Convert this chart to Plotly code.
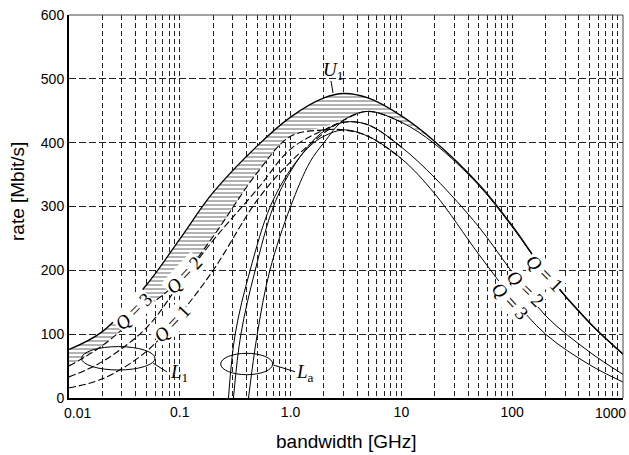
import plotly.graph_objects as go

# ---------------- data ----------------
x_u1 = [0.01, 0.02, 0.05, 0.1, 0.2, 0.5, 1, 2, 3, 5, 10, 20, 50, 100, 200, 500, 1000]
u1 = [76, 104, 177, 249, 322, 395, 440, 470, 477, 470, 442, 402, 335, 270, 197, 118, 69]

x_la_q1 = [0.417, 0.5, 0.65, 1, 1.5, 2, 3, 5, 10, 20, 50, 100, 200, 500, 1000]
la_q1 = [0, 100, 200, 300, 370, 400, 435, 449, 432, 398, 333, 268, 196, 117, 68]

x_la_q2 = [0.305, 0.356, 0.479, 0.7, 1, 1.5, 2, 3, 5, 10, 20, 50, 100, 200, 500, 1000]
la_q2 = [0, 100, 200, 300, 355, 398, 418, 432, 428, 393, 345, 268, 197, 129, 72, 37]

x_la_q3 = [0.275, 0.316, 0.431, 0.655, 1, 1.5, 2, 3, 5, 10, 20, 50, 100, 200, 500, 1000]
la_q3 = [0, 100, 200, 300, 358, 395, 410, 420, 410, 375, 320, 225, 157, 100, 52, 25]

x_l1 = [0.01, 0.02, 0.05, 0.1, 0.2, 0.5, 1, 2, 3, 5, 10]
l1_q3 = [50, 82, 141, 185, 253, 353, 410, 420, 420, 410, 375]
l1_q2 = [33, 57, 110, 179, 247, 327, 390, 420, 432, 428, 393]
l1_q1 = [16, 30, 73, 131, 200, 310, 370, 415, 435, 449, 432]

x_gap = [0.01, 0.02, 0.05, 0.1, 0.2, 0.5, 1, 2, 3, 5, 10, 20]
gap_low = [50, 82, 141, 185, 253, 353, 410, 425, 436, 449, 433, 402]

major_ticks = [0.1, 1, 10, 100]
major_text = ["0.1", "1.0", "10", "100"]
edge_text = ["0.01", "1000"]
y_ticks = [0, 100, 200, 300, 400, 500, 600]

# ---------------- figure ----------------
W, H = 629, 455
L, R, T, B = 69, 6, 15, 57
PW, PH = W - L - R, H - T - B


def px(xp):
    return (xp - L) / PW


def py(yp):
    return (H - B - yp) / PH


fig = go.Figure()

# hatched gap between U1 and best lower bound
u1_fill_x = [x for x in x_u1 if x <= x_gap[-1]]
u1_fill_y = u1[:len(u1_fill_x)]
fig.add_trace(go.Scatter(x=x_gap, y=gap_low, mode="lines", line=dict(width=0, shape="spline"),
                         hoverinfo="skip", showlegend=False))
fig.add_trace(go.Scatter(x=u1_fill_x, y=u1_fill_y, mode="lines", line=dict(width=0, shape="spline"),
                         fill="tonexty", fillcolor="white",
                         fillpattern=dict(shape="-", fgcolor="black", bgcolor="white",
                                          size=4, solidity=0.3),
                         hoverinfo="skip", showlegend=False))

dash = "7px,3px"
for xs, ys in [(x_l1, l1_q1), (x_l1, l1_q2), (x_l1, l1_q3)]:
    fig.add_trace(go.Scatter(x=xs, y=ys, mode="lines",
                             line=dict(color="black", width=1.1, dash=dash, shape="spline"),
                             showlegend=False))

for xs, ys in [(x_la_q1, la_q1), (x_la_q2, la_q2), (x_la_q3, la_q3)]:
    fig.add_trace(go.Scatter(x=xs, y=ys, mode="lines",
                             line=dict(color="black", width=1.0, shape="spline"),
                             showlegend=False))

fig.add_trace(go.Scatter(x=x_u1, y=u1, mode="lines",
                         line=dict(color="black", width=1.3, shape="spline"),
                         showlegend=False))

# minor x grid at every 2..9 x decade
minor_x = [round(m * 10.0 ** k, 6) for k in range(-2, 3) for m in range(2, 10)]

tickfont = dict(family="Liberation Sans, Arial, sans-serif", size=14, color="black")
fig.update_xaxes(type="log", range=[-2, 3], tickvals=major_ticks, ticktext=major_text,
                 showgrid=True, gridcolor="#222", gridwidth=0.8, griddash="5px,3px",
                 minor=dict(tickvals=minor_x, showgrid=True, gridcolor="#222", gridwidth=0.8,
                            griddash="5px,3px", ticks=""),
                 showline=True, linecolor="black", linewidth=2, ticks="",
                 tickfont=tickfont, zeroline=False)
fig.update_yaxes(range=[0, 600], tickvals=y_ticks, showgrid=True, gridcolor="#222",
                 gridwidth=0.8, griddash="7px,3px", showline=True, linecolor="black",
                 linewidth=2, ticks="", tickfont=tickfont, zeroline=False)

shapes = [
    dict(type="line", xref="paper", yref="paper", x0=0, x1=1, y0=1, y1=1,
         line=dict(color="#444", width=1)),
    dict(type="line", xref="paper", yref="paper", x0=1, x1=1, y0=0, y1=1,
         line=dict(color="#444", width=1)),
    # L1 ellipse and leader
    dict(type="circle", xref="paper", yref="paper", x0=px(81.6), x1=px(155), y0=py(370), y1=py(346.6),
         line=dict(color="black", width=1)),
    dict(type="line", xref="paper", yref="paper", x0=px(153), y0=py(363), x1=px(167), y1=py(372),
         line=dict(color="black", width=1)),
    # La ellipse and leader
    dict(type="circle", xref="paper", yref="paper", x0=px(220.7), x1=px(272.7), y0=py(374.7), y1=py(353.3),
         line=dict(color="black", width=1)),
    dict(type="line", xref="paper", yref="paper", x0=px(273.3), y0=py(365), x1=px(295), y1=py(371.7),
         line=dict(color="black", width=1)),
    # U1 leader
    dict(type="line", xref="paper", yref="paper", x0=px(331), y0=py(81), x1=px(333), y1=py(93),
         line=dict(color="black", width=1)),
]

serif = dict(family="Liberation Serif, DejaVu Serif, serif", size=19, color="black")
ann = []


def label(text, x, y, angle=0, bg=None, font=serif):
    d = dict(text=text, xref="paper", yref="paper", x=px(x), y=py(y), showarrow=False,
             textangle=angle, font=font, xanchor="center", yanchor="middle", borderpad=0)
    if bg:
        d["bgcolor"] = bg
    ann.append(d)


label("<i>U</i><sub>1</sub>", 333, 71)
label("<i>L</i><sub>1</sub>", 179, 373)
label("<i>L</i><sub>a</sub>", 305, 373)
label("<i>Q</i> = 3", 133.3, 311.7, -45, "white")
label("<i>Q</i> = 2", 183.3, 275, -47, "white")
label("<i>Q</i> = 1", 171.7, 323.3, -47, "white")
label("<i>Q</i> = 1", 544, 272.7, 45, "white")
label("<i>Q</i> = 2", 525.7, 288.3, 44, "white")
label("<i>Q</i> = 3", 510, 300, 47, "white")

# edge tick labels, nudged inward as in the original
label(edge_text[0], 77, 413, 0, None, tickfont)
label(edge_text[1], 610, 413, 0, None, tickfont)

sans = dict(family="Liberation Sans, Arial, sans-serif", size=19, color="black")
label("bandwidth [GHz]", 346, 441, 0, None, sans)
label("rate [Mbit/s]", 17, 192, -90, None, sans)

fig.update_layout(width=W, height=H, margin=dict(l=L, r=R, t=T, b=B, autoexpand=False),
                  paper_bgcolor="white", plot_bgcolor="white", shapes=shapes, annotations=ann,
                  showlegend=False)

fig.write_html("out.html", config={"displayModeBar": False},
               post_script="document.body.style.margin='0px';")
